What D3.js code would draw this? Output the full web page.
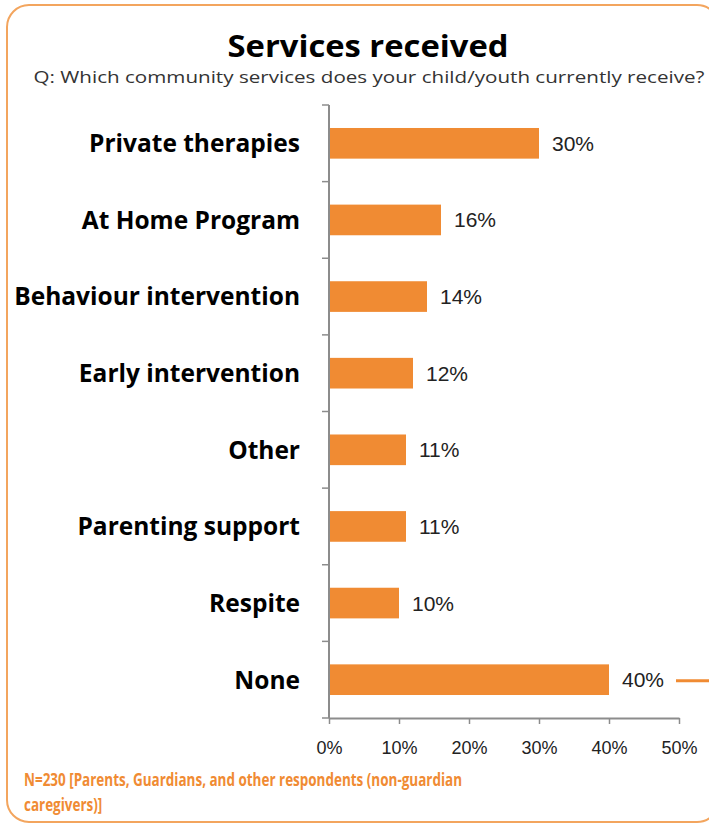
<!DOCTYPE html>
<html>
<head>
<meta charset="utf-8">
<script src="https://cdn.jsdelivr.net/npm/d3@7"></script>
<style>
  html, body { margin: 0; padding: 0; background: #fff; }
  svg { display: block; }
</style>
</head>
<body>
<div id="chart"></div>
<script>
// Services received — share of respondents per community service
const categories = ["Private therapies", "At Home Program", "Behaviour intervention",
  "Early intervention", "Other", "Parenting support", "Respite", "None"];
const values = [30, 16, 14, 12, 11, 11, 10, 40];
const xTicks = [0, 10, 20, 30, 40, 50];
const footnoteLines = ["N=230 [Parents, Guardians, and other respondents (non-guardian", "caregivers)]"];

const W = 709, H = 825;
const orange = "#F08B33";
const svg = d3.select("#chart").append("svg").attr("width", W).attr("height", H);

// rounded frame
svg.append("rect")
  .attr("x", 7).attr("y", 5).attr("width", 712).attr("height", 817)
  .attr("rx", 22).attr("ry", 22)
  .attr("fill", "none").attr("stroke", "#F3A55E").attr("stroke-width", 2);

// title + question
svg.append("text").attr("x", 368).attr("y", 57)
  .attr("text-anchor", "middle")
  .style("font-family", "'Open Sans', sans-serif").style("font-weight", 700)
  .style("font-size", "30px").attr("fill", "#000")
  .attr("textLength", 281).attr("lengthAdjust", "spacingAndGlyphs")
  .text("Services received");

svg.append("text").attr("x", 369).attr("y", 83)
  .attr("text-anchor", "middle")
  .style("font-family", "'Open Sans', sans-serif")
  .style("font-size", "16.5px").attr("fill", "#333")
  .attr("textLength", 671).attr("lengthAdjust", "spacingAndGlyphs")
  .text("Q: Which community services does your child/youth currently receive?");

const x = d3.scaleLinear().domain([0, 50]).range([329, 679]);
const y = d3.scaleBand().domain(categories).range([105, 718]).paddingInner(0.6).paddingOuter(0.3);

// bars
svg.append("g").selectAll("rect").data(categories).join("rect")
  .attr("x", x(0))
  .attr("y", d => y(d))
  .attr("width", (d, i) => x(values[i]) - x(0))
  .attr("height", y.bandwidth())
  .attr("fill", orange);

// value labels
svg.append("g").selectAll("text").data(categories).join("text")
  .attr("x", (d, i) => x(values[i]) + 13)
  .attr("y", d => y(d) + y.bandwidth() / 2)
  .attr("dy", "0.36em")
  .style("font-family", "'Liberation Sans', Arial, sans-serif")
  .style("font-size", "21px").attr("fill", "#222")
  .text((d, i) => values[i] + "%");

// short leader line next to the last label
const lastIdx = categories.length - 1;
svg.append("line")
  .attr("x1", x(values[lastIdx]) + 67).attr("x2", W)
  .attr("y1", y(categories[lastIdx]) + y.bandwidth() / 2 + 1)
  .attr("y2", y(categories[lastIdx]) + y.bandwidth() / 2 + 1)
  .attr("stroke", orange).attr("stroke-width", 3);

// category axis (ticks between bands)
const yBand = d3.scaleLinear().domain([0, categories.length]).range([105, 718]);
const yAxis = svg.append("g");
yAxis.append("line").attr("x1", 329).attr("x2", 329).attr("y1", 105).attr("y2", 718)
  .attr("stroke", "#8c8c8c").attr("stroke-width", 2);
yAxis.selectAll("line.tk").data(d3.range(categories.length + 1)).join("line")
  .attr("class", "tk")
  .attr("x1", 322).attr("x2", 329)
  .attr("y1", d => yBand(d)).attr("y2", d => yBand(d))
  .attr("stroke", "#8c8c8c").attr("stroke-width", 1.5);

svg.append("g").selectAll("text").data(categories).join("text")
  .attr("x", 300)
  .attr("y", d => y(d) + y.bandwidth() / 2)
  .attr("dy", "0.36em")
  .attr("text-anchor", "end")
  .style("font-family", "'Open Sans', sans-serif").style("font-weight", 700)
  .style("font-size", "24.5px").attr("fill", "#000")
  .text(d => d);

// value axis
const xAxis = svg.append("g").attr("transform", "translate(0,718)")
  .call(d3.axisBottom(x).tickValues(xTicks).tickFormat(d => d + "%").tickSize(6).tickSizeOuter(0));
xAxis.select(".domain").attr("stroke", "#8c8c8c").attr("stroke-width", 2);
xAxis.selectAll(".tick line").attr("stroke", "#8c8c8c").attr("stroke-width", 1.5);
xAxis.selectAll(".tick text")
  .attr("y", 23)
  .style("font-family", "'Liberation Sans', Arial, sans-serif")
  .style("font-size", "18px").attr("fill", "#222");

// footnote: both lines share the same horizontal condensing
const notes = svg.append("g").selectAll("text").data(footnoteLines).join("text")
  .attr("x", 24).attr("y", (d, i) => 786 + i * 25)
  .style("font-family", "'Open Sans', sans-serif").style("font-weight", 700)
  .style("font-size", "18px").attr("fill", orange)
  .text(d => d);
const firstWidth = notes.nodes()[0].getComputedTextLength();
const squeeze = 438 / firstWidth;
notes.each(function () {
  const w = this.getComputedTextLength();
  d3.select(this).attr("textLength", w * squeeze).attr("lengthAdjust", "spacingAndGlyphs");
});
</script>
</body>
</html>
